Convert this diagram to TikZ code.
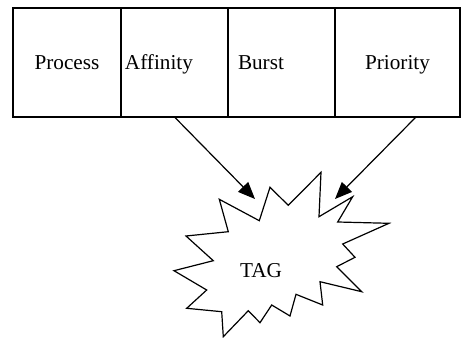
\documentclass[tikz,border=0pt]{standalone}
\usepackage{fontspec}
\setmainfont{Liberation Serif}
\usetikzlibrary{positioning, arrows.meta}

\tikzset{
  cell/.style={draw, line width=0.6pt, outer sep=0pt, minimum height=54.5pt,
    text height=9.5pt, text depth=2.5pt, font=\fontsize{10.6}{13}\selectfont},
  link/.style={line width=0.6pt, -{Triangle[length=8.5pt, width=7pt]}}
}

\begin{document}
\begin{tikzpicture}[x=0.5pt, y=-0.5pt]
  \useasboundingbox (0,0) rectangle (462,338);
  % the four fields of the record
  \node[cell, minimum width=54pt] (process) at (67,62.5) {Process};
  \node[cell, text width=49.5pt, inner xsep=2pt, align=left, right=0pt of process] (affinity) {Affinity};
  \node[cell, text width=43.5pt, inner xsep=5pt, align=left, right=0pt of affinity] (burst) {Burst};
  \node[cell, minimum width=62.5pt, right=0pt of burst] (priority) {Priority};
  % the tag
  \draw[line width=0.6pt] (219.3,199.3) -- (259.3,220.7) -- (270,187.3) -- (288.3,205.3)
    -- (321,172.3) -- (319,216.7) -- (352.7,196.7) -- (337.7,222) -- (389,223.3)
    -- (342.7,244) -- (355,257.3) -- (336.7,266.7) -- (361.7,291.7) -- (320,281.7)
    -- (322.7,305) -- (296,294.3) -- (290,316) -- (271.7,305) -- (260,322.7)
    -- (248.3,310.7) -- (223.3,336.7) -- (221.7,311.7) -- (186.7,308.3)
    -- (206.7,290) -- (174,270.7) -- (213.3,260.7) -- (186,236) -- (228.3,231.7) -- cycle;
  \node[font=\fontsize{10.6}{13}\selectfont] (tag) at (261,271) {TAG};
  \coordinate (tipl) at (255,199);
  \coordinate (tipr) at (335,199);
  \draw[link] (affinity.south) -- (tipl);
  \draw[link] ([xshift=9.25pt]priority.south) -- (tipr);
\end{tikzpicture}
\end{document}
